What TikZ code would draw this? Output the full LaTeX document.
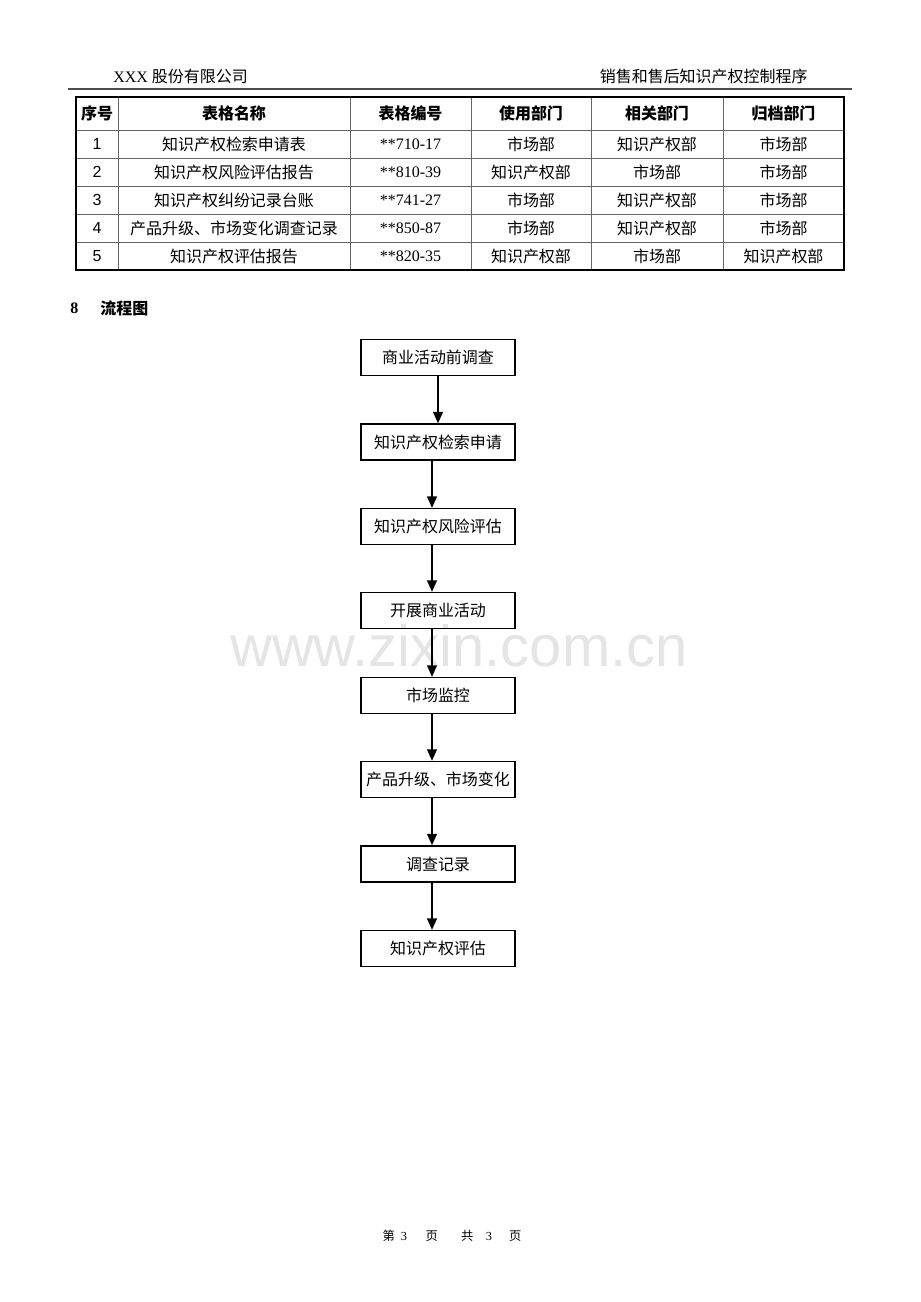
\documentclass[tikz,border=0pt]{standalone}
\usepackage{fontspec}
\setmainfont{Liberation Serif}
\setsansfont{Liberation Sans}
\newfontfamily\cjk{Noto Sans CJK SC}
\usetikzlibrary{arrows.meta}

\begin{document}
\begin{tikzpicture}
      [x=0.02cm,y=-0.02cm,every node/.style={inner sep=0pt,font=\fontsize{9.1}{11}\selectfont},
       cell/.style={font=\fontsize{9.1}{11}\selectfont\cjk},
       head/.style={font=\fontsize{9.1}{11}\selectfont\cjk\bfseries},
       box/.style={draw,line width=0.7pt,minimum width=3.08cm,minimum height=0.72cm,font=\fontsize{9.1}{11}\selectfont\cjk},
       flow/.style={line width=1pt,-{Triangle[length=6.5pt,width=5.5pt]}}]
	\useasboundingbox (0,0) rectangle (920,1302);

	% page head
	\node (co) [anchor=west] at (113,76) {XXX \cjk 股份有限公司};
	\node (ti) [anchor=east,cell] at (808,76) {销售和售后知识产权控制程序};
	\draw[line width=1pt,black!70] (68,89) -- (852,89);

	% table
	\foreach \x in {118,350,471,591,723}
	  \draw[black!60,line width=0.5pt] (\x,97) -- (\x,270);
	\foreach \y in {130,158,186,214,242}
	  \draw[black!60,line width=0.5pt] (76,\y) -- (844,\y);
	\draw[line width=1.4pt] (76,97) rectangle (844,270);

	\node (h1) [head] at (97,113.5)   {序号};
	\node (h2) [head] at (234,113.5)  {表格名称};
	\node (h3) [head] at (410.5,113.5){表格编号};
	\node (h4) [head] at (531,113.5)  {使用部门};
	\node (h5) [head] at (657,113.5)  {相关部门};
	\node (h6) [head] at (783.5,113.5){归档部门};

	\foreach \n/\y/\nm/\cd/\us/\rl/\ar in {1/144/知识产权检索申请表/710-17/市场部/知识产权部/市场部,
	    2/172/知识产权风险评估报告/810-39/知识产权部/市场部/市场部,
	    3/200/知识产权纠纷记录台账/741-27/市场部/知识产权部/市场部,
	    4/228/产品升级、市场变化调查记录/850-87/市场部/知识产权部/市场部,
	    5/256/知识产权评估报告/820-35/知识产权部/市场部/知识产权部}{
	  \node (no\n) [font=\fontsize{9.1}{11}\selectfont\sffamily] at (97,\y) {\n};
	  \node (nm\n) [cell] at (234,\y)   {\nm};
	  \node (cd\n)        at (410.5,\y) {**\cd};
	  \node (us\n) [cell] at (531,\y)   {\us};
	  \node (rl\n) [cell] at (657,\y)   {\rl};
	  \node (ar\n) [cell] at (783.5,\y) {\ar};
	}

	\node (sec)  [anchor=west,font=\fontsize{9.1}{11}\selectfont\bfseries] at (70,308) {8};
	\node (sect) [anchor=west,head] at (100,308) {流程图};

	\node (wm) [text=black!10,font=\fontsize{33}{33}\selectfont\sffamily] at (459,646) {www.zixin.com.cn};

	% flow chart
	\node (s1) [box] at (438,357.5) {商业活动前调查};
	\node (s2) [box] at (438,442)   {知识产权检索申请};
	\node (s3) [box] at (438,526.5) {知识产权风险评估};
	\node (s4) [box] at (438,610.5) {开展商业活动};
	\node (s5) [box] at (438,695.5) {市场监控};
	\node (s6) [box] at (438,779.5) {产品升级、市场变化};
	\node (s7) [box] at (438,864)   {调查记录};
	\node (s8) [box] at (438,948.5) {知识产权评估};

	\draw[flow] (s1) -- (s2);
	\foreach \from/\to in {s2/s3,s3/s4,s4/s5,s5/s6,s6/s7,s7/s8}
	  \draw[flow] ([xshift=-0.12cm]\from.south) -- ([xshift=-0.12cm]\to.north);

	\node (pg) [font=\fontsize{7}{8}\selectfont\cjk] at (452,1236)
	  {第\hspace{0.5em}{\rmfamily 3}\hspace{1.5em}页\hspace{1.9em}共\hspace{1em}{\rmfamily 3}\hspace{1.4em}页};
\end{tikzpicture}
\end{document}
